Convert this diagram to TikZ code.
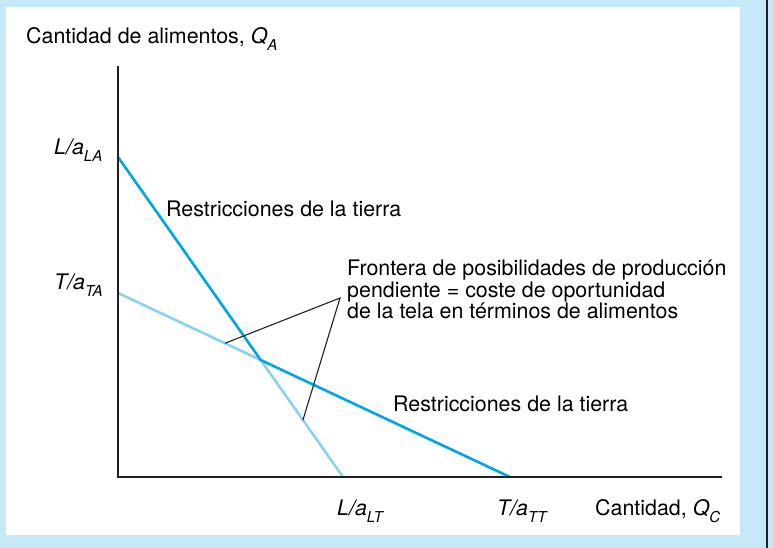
\documentclass[tikz,border=0pt]{standalone}
\usepackage{fontspec}
\setmainfont{TeX Gyre Heros}
\usetikzlibrary{calc,intersections}
\definecolor{bgblue}{RGB}{198,233,248}
\definecolor{brightblue}{RGB}{0,166,228}
\definecolor{lightblue}{RGB}{140,210,240}
\definecolor{axisgray}{RGB}{35,31,32}
\newcommand{\mysub}[1]{\raisebox{-7pt}{\fontsize{15}{15}\selectfont\itshape #1}}
\begin{document}
\begin{tikzpicture}[x=1pt,y=-1pt,
  lbl/.style={inner sep=0pt, anchor=base west, font=\fontsize{21.4}{21.5}\selectfont},
  frontier/.style={draw=brightblue, line width=2.6pt, line join=round},
  hidden/.style={draw=lightblue, line width=2.6pt, line join=round},
  axisline/.style={draw=axisgray, line width=2.6pt, line join=miter},
  pointer/.style={draw=axisgray, line width=1.1pt, line join=miter}]
\useasboundingbox (0,0) rectangle (773,548);
\fill[bgblue] (0,0) rectangle (773,548);
\fill[white] (6,7) rectangle (740,535);
\draw[axisgray, line width=1.3pt] (767,0) -- (767,548);

\coordinate (O) at (118,477);
\coordinate (ytop) at (118,66);
\coordinate (xend) at (722,477);
\coordinate (LA) at (118,157);
\coordinate (TA) at (118,293);
\coordinate (LT) at (343,477);
\coordinate (TT) at (510,477);
\path[name path=lline] (LA) -- (LT);
\path[name path=tline] (TA) -- (TT);
\path[name intersections={of=lline and tline, by=X}];

\draw[hidden] (TA) -- (X) -- (LT);
\draw[frontier] (LA) -- (X) -- (TT);
\draw[axisline] (ytop) -- (O) -- (xend);

\coordinate (p1) at ($(TA)!0.75!(X)$);
\coordinate (apex) at (340,298);
\coordinate (p2) at ($(X)!0.513!(LT)$);
\draw[pointer] (p1) -- (apex) -- (p2);

\node[lbl] (ylab) at (26,44) {Cantidad de alimentos, \textit{Q}\mysub{A}};
\node[lbl] (lalab) at (54,155) {\textit{L/a}\mysub{LA}};
\node[lbl] (talab) at (54,289) {\textit{T/a}\mysub{TA}};
\node[lbl] (r1) at (166,216) {Restricciones de la tierra};
\node[lbl] (fr1) at (347,275) {Frontera de posibilidades de producción};
\node[lbl] (fr2) at (347,297) {pendiente = coste de oportunidad};
\node[lbl] (fr3) at (347,318) {de la tela en términos de alimentos};
\node[lbl] (r2) at (393,411) {Restricciones de la tierra};
\node[lbl] (ltlab) at (337,515) {\textit{L/a}\mysub{LT}};
\node[lbl] (ttlab) at (497,515) {\textit{T/a}\mysub{TT}};
\node[lbl] (xlab) at (595,515) {Cantidad, \textit{Q}\mysub{C}};
\end{tikzpicture}
\end{document}
